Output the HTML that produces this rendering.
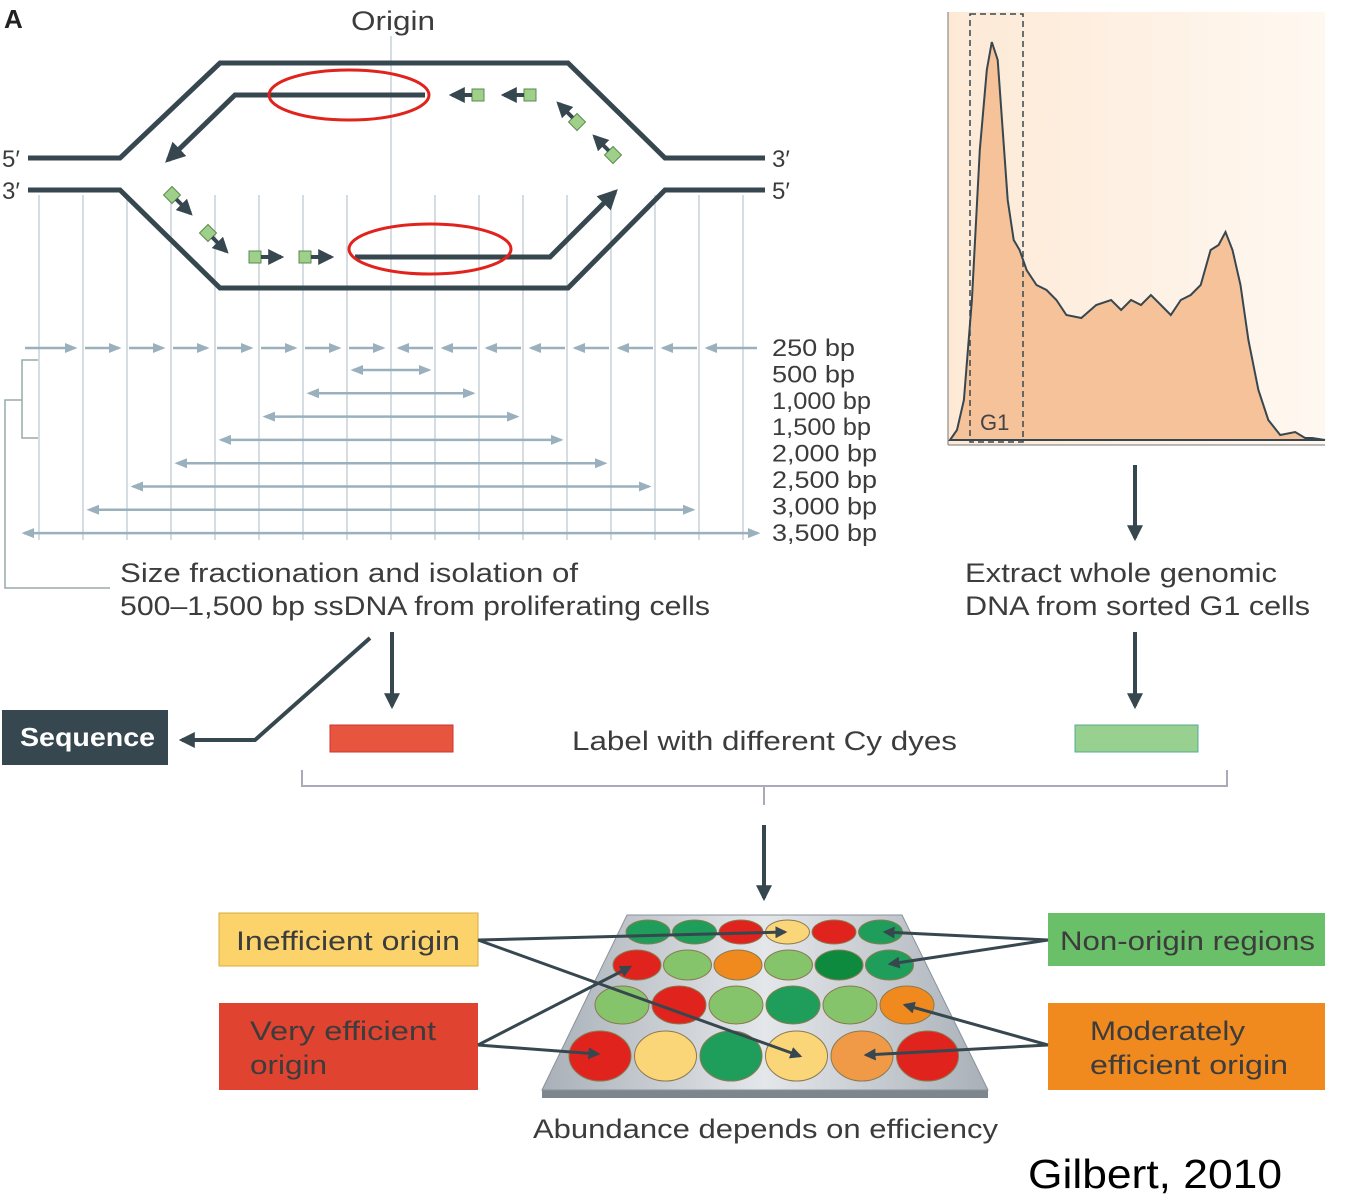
<!DOCTYPE html>
<html><head><meta charset="utf-8"><style>
html,body{margin:0;padding:0;background:#fff;}
svg{display:block;font-family:"Liberation Sans",sans-serif;}
.t{fill:#3c3c3c;font-size:27px;}
.bp{fill:#3c3c3c;font-size:24px;}
</style></head><body>
<svg id="fig" width="1362" height="1200" viewBox="0 0 1362 1200">
<defs>
<marker id="ah" viewBox="0 0 10 10" refX="8" refY="5" markerWidth="4" markerHeight="4" orient="auto-start-reverse"><path d="M0,0L10,5L0,10z" fill="#37474f"/></marker>
<marker id="ahg" viewBox="0 0 10 10" refX="8" refY="5" markerWidth="5" markerHeight="5" orient="auto-start-reverse"><path d="M0,1L10,5L0,9z" fill="#9ab0bd"/></marker>
<linearGradient id="hbg" x1="0" x2="1"><stop offset="0" stop-color="#fde9d6"/><stop offset="1" stop-color="#fff8f1"/></linearGradient>
<linearGradient id="plate" x1="0" x2="1"><stop offset="0" stop-color="#a9b0b8"/><stop offset="0.5" stop-color="#e4e7ea"/><stop offset="1" stop-color="#a9b0b8"/></linearGradient>
</defs>
<text x="4" y="28" font-size="26" font-weight="bold" fill="#222">A</text>
<text x="351" y="30" class="t" textLength="84" lengthAdjust="spacingAndGlyphs">Origin</text>
<line x1="391" y1="36" x2="391" y2="540" stroke="#c8d2d8" stroke-width="1.5"/>
<g id="grid"></g>
<g fill="none" stroke="#37474f" stroke-width="5">
<polyline points="28,158 120,158 220,63 568,63 665,158 765,158"/>
<polyline points="28,190 120,190 220,288 568,288 665,190 765,190"/>
<polyline points="425,95 235,95 168,160" marker-end="url(#ah)"/>
<polyline points="355,257 550,257 615,192" marker-end="url(#ah)"/>
</g>
<g id="okazaki"></g>
<ellipse cx="349" cy="95" rx="80" ry="25" fill="none" stroke="#e0231c" stroke-width="3"/>
<ellipse cx="430" cy="249" rx="81" ry="25" fill="none" stroke="#e0231c" stroke-width="3"/>
<text x="2" y="167" class="bp">5′</text>
<text x="2" y="199" class="bp">3′</text>
<text x="772" y="167" class="bp">3′</text>
<text x="772" y="199" class="bp">5′</text>
<g id="frags"></g>
<polyline points="38,360 22,360 22,438 38,438" fill="none" stroke="#9aa" stroke-width="1.5"/>
<polyline points="22,400 5,400 5,588 110,588" fill="none" stroke="#9aa" stroke-width="1.5"/>
<text x="120" y="582" class="t" textLength="458" lengthAdjust="spacingAndGlyphs">Size fractionation and isolation of</text>
<text x="120" y="615" class="t" textLength="590" lengthAdjust="spacingAndGlyphs">500–1,500 bp ssDNA from proliferating cells</text>
<g>
<rect x="948" y="12" width="377" height="433" fill="url(#hbg)"/>
<path id="histpath" fill="#f6c29a" stroke="#37474f" stroke-width="2"/>
<line x1="948" y1="12" x2="948" y2="445" stroke="#777" stroke-width="1"/>
<line x1="948" y1="445" x2="1325" y2="445" stroke="#777" stroke-width="1"/>
<rect x="970" y="14" width="53" height="428" fill="none" stroke="#37474f" stroke-width="1.5" stroke-dasharray="6,4"/>
<text x="980" y="430" font-size="22" fill="#444">G1</text>
</g>
<g stroke="#37474f" stroke-width="4" marker-end="url(#ah)">
<line x1="1135" y1="465" x2="1135" y2="538"/>
<line x1="1135" y1="632" x2="1135" y2="706"/>
<line x1="392" y1="632" x2="392" y2="706"/>
<polyline points="370,638 255,740 182,740" fill="none"/>
<line x1="764" y1="825" x2="764" y2="898"/>
</g>
<text x="965" y="582" class="t" textLength="312" lengthAdjust="spacingAndGlyphs">Extract whole genomic</text>
<text x="965" y="615" class="t" textLength="345" lengthAdjust="spacingAndGlyphs">DNA from sorted G1 cells</text>
<rect x="2" y="710" width="166" height="55" fill="#37474f"/>
<text x="20" y="746" font-size="26" font-weight="bold" fill="#fff" textLength="135" lengthAdjust="spacingAndGlyphs">Sequence</text>
<rect x="330" y="725" width="123" height="27" fill="#e8553f" stroke="#c33"/>
<text x="572" y="750" class="t" textLength="385" lengthAdjust="spacingAndGlyphs">Label with different Cy dyes</text>
<rect x="1075" y="725" width="123" height="27" fill="#98d08f" stroke="#5a9"/>
<polyline points="302,770 302,786 1227,786 1227,770" fill="none" stroke="#aab" stroke-width="2"/>
<line x1="764" y1="786" x2="764" y2="805" stroke="#aab" stroke-width="2"/>
<g>
<polygon points="542,1090 988,1090 988,1098 542,1098" fill="#7d858d"/>
<polygon points="627,915 902,915 988,1090 542,1090" fill="url(#plate)" stroke="#8a929a"/>
<g id="spots"></g>
</g>
<g>
<rect x="219" y="913" width="259" height="53" fill="#fcd36b" stroke="#d9ae40"/>
<text x="236" y="950" class="t" fill="#333" textLength="224" lengthAdjust="spacingAndGlyphs">Inefficient origin</text>
<rect x="219" y="1003" width="259" height="87" fill="#e0432f"/>
<text x="250" y="1040" class="t" fill="#333" textLength="186" lengthAdjust="spacingAndGlyphs">Very efficient</text>
<text x="250" y="1074" class="t" fill="#333" textLength="77" lengthAdjust="spacingAndGlyphs">origin</text>
<rect x="1048" y="913" width="277" height="53" fill="#6abf69"/>
<text x="1060" y="950" class="t" fill="#333" textLength="255" lengthAdjust="spacingAndGlyphs">Non-origin regions</text>
<rect x="1048" y="1003" width="277" height="87" fill="#f0891e"/>
<text x="1090" y="1040" class="t" fill="#333" textLength="155" lengthAdjust="spacingAndGlyphs">Moderately</text>
<text x="1090" y="1074" class="t" fill="#333" textLength="198" lengthAdjust="spacingAndGlyphs">efficient origin</text>
</g>
<g stroke="#37474f" stroke-width="3" fill="none" marker-end="url(#ah)">
<line x1="478" y1="940" x2="785" y2="932"/>
<line x1="478" y1="940" x2="800" y2="1056"/>
<line x1="478" y1="1045" x2="630" y2="967"/>
<line x1="478" y1="1045" x2="598" y2="1054"/>
<line x1="1048" y1="940" x2="885" y2="932"/>
<line x1="1048" y1="940" x2="890" y2="964"/>
<line x1="1048" y1="1045" x2="905" y2="1005"/>
<line x1="1048" y1="1045" x2="866" y2="1055"/>
</g>
<text x="533" y="1138" class="t" font-size="26" textLength="465" lengthAdjust="spacingAndGlyphs">Abundance depends on efficiency</text>
<text x="1028" y="1188" font-size="41" fill="#000" textLength="254" lengthAdjust="spacingAndGlyphs">Gilbert, 2010</text>
</svg>
<script>
// fragment sizes (bp)
const fragLabels = ["250 bp","500 bp","1,000 bp","1,500 bp","2,000 bp","2,500 bp","3,000 bp","3,500 bp"];
const fragLabelWidths = [83,83,99,99,105,105,105,105];
const spanSizes = [500,1000,1500,2000,2500,3000,3500,4250];
// histogram: DNA content channel and cell counts
const histChannel = [0,7,14,22,30,37,42,48,53,58,64,70,77,87,97,107,117,132,147,162,172,182,192,202,212,222,232,242,252,262,270,277,284,292,300,310,320,332,347,357,364,377];
const histCount = [0,10,40,140,290,370,398,380,310,240,200,190,170,155,150,140,125,122,135,140,130,140,135,145,135,125,140,145,155,190,195,208,190,155,100,50,20,5,8,2,2,0];
const spotColors = [["#1e9e5a","#1e9e5a","#e0231c","#fbd679","#e0231c","#1e9e5a"],
 ["#e0231c","#86c46b","#f08a1e","#86c46b","#0d8a3e","#1e9e5a"],
 ["#86c46b","#e0231c","#86c46b","#1e9e5a","#86c46b","#f08a1e"],
 ["#e0231c","#fbd679","#1e9e5a","#fbd679","#f09a48","#e0231c"]];
const NS="http://www.w3.org/2000/svg";
function mk(tag,attrs,parent){const e=document.createElementNS(NS,tag);for(const k in attrs)e.setAttribute(k,attrs[k]);parent.appendChild(e);return e;}
const grid=document.getElementById('grid');
const step=44, cx=391;
const halfOfBp=bp=>bp/500*step;
for(let i=-8;i<=8;i++){ if(i===0) continue; const l=mk('line',{x1:cx+i*step,y1:195,x2:cx+i*step,y2:540,stroke:'#c8d2d8','stroke-width':1.5},grid);
  }
const frags=document.getElementById('frags');
for(let i=0;i<8;i++){
 const a=mk('line',{x1:cx-8*step+i*step+(i===0?-16:0)+2,y1:348,x2:cx-8*step+(i+1)*step-8,y2:348,stroke:'#9ab0bd','stroke-width':2.5,'marker-end':'url(#ahg)'},frags);
  
 const b=mk('line',{x1:cx+8*step-i*step+(i===0?16:0)-2,y1:348,x2:cx+8*step-(i+1)*step+8,y2:348,stroke:'#9ab0bd','stroke-width':2.5,'marker-end':'url(#ahg)'},frags);
  
}
spanSizes.forEach((s,i)=>{
 const y=370+i*23.3;
 const half=Math.min(halfOfBp(s),373);
 const l=mk('line',{x1:cx-half+6,y1:y,x2:cx+half-6,y2:y,stroke:'#9ab0bd','stroke-width':2.5,'marker-start':'url(#ahg)','marker-end':'url(#ahg)'},frags);
  
});
fragLabels.forEach((lab,i)=>{
 const t=mk('text',{x:772,y:356+i*26.4,'class':'bp',textLength:fragLabelWidths[i],lengthAdjust:'spacingAndGlyphs'},frags); t.textContent=lab;
  
});
const ok=document.getElementById('okazaki');
[[478,95,180],[530,95,180],[577,122,225],[613,155,225],[172,195,45],[208,233,45],[255,257,0],[305,257,0]].forEach(([x,y,a])=>{
 const g=mk('g',{transform:`translate(${x},${y}) rotate(${a})`},ok);
  
 mk('rect',{x:-6,y:-6,width:12,height:12,fill:'#9fd08a',stroke:'#5a8a50'},g);
 mk('line',{x1:6,y1:0,x2:26,y2:0,stroke:'#37474f','stroke-width':4,'marker-end':'url(#ah)'},g);
});
const hx=c=>950+c*375/377, hy=v=>440-v*1.0;
let d=`M${hx(histChannel[0])},${hy(0)}`;
histChannel.forEach((c,i)=>{d+=` L${hx(c).toFixed(1)},${hy(histCount[i]).toFixed(1)}`;});
d+=` L${hx(histChannel[histChannel.length-1])},440 Z`;
document.getElementById('histpath').setAttribute('d',d);
const sp=document.getElementById('spots');
const rows=[{y:932,x0:648,dx:46.5,rx:22,ry:12},{y:965,x0:637,dx:50.5,rx:24,ry:15},{y:1005,x0:622,dx:57,rx:27,ry:19},{y:1056,x0:600,dx:65.5,rx:31,ry:25}];
spotColors.forEach((r,i)=>r.forEach((c,j)=>{
 const e=mk('ellipse',{cx:rows[i].x0+j*rows[i].dx,cy:rows[i].y,rx:rows[i].rx,ry:rows[i].ry,fill:c,stroke:'#8a7a50','stroke-width':1},sp);
  
}));
</script>
</body></html>
